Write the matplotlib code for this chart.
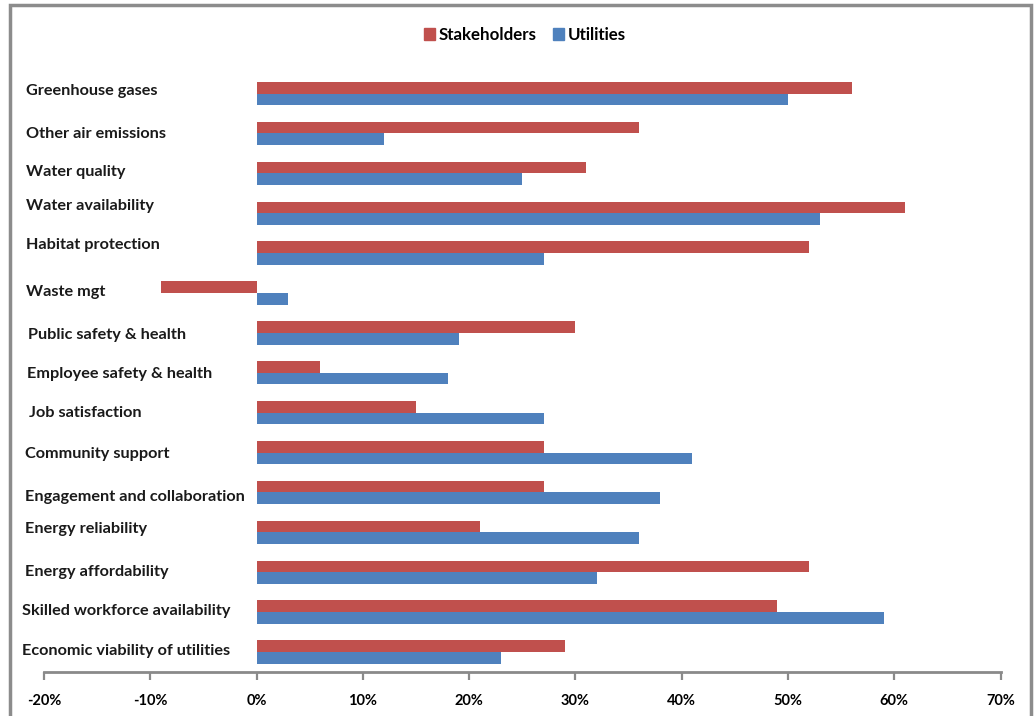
import matplotlib
matplotlib.use("Agg")
import matplotlib.pyplot as plt
from matplotlib.patches import Rectangle, Patch
from matplotlib.ticker import FuncFormatter
import numpy as np

categories = [
    "Greenhouse gases", "Other air emissions", "Water quality", "Water availability",
    "Habitat protection", "Waste mgt", "Public safety & health", "Employee safety & health",
    "Job satisfaction", "Community support", "Engagement and collaboration",
    "Energy reliability", "Energy affordability", "Skilled workforce availability",
    "Economic viability of utilities",
]
stakeholders = [56, 36, 31, 61, 52, -9, 30, 6, 15, 27, 27, 21, 52, 49, 29]
utilities = [50, 12, 25, 53, 27, 3, 19, 18, 27, 41, 38, 36, 32, 59, 23]
x_ticks = [-20, -10, 0, 10, 20, 30, 40, 50, 60, 70]

# layout: small per-label pixel offsets (x, y) to mimic original placement
label_dx = [0, 0, 0, 0, 0, 0, 2, 1, 3, -1, -1, -1, -1, -4, -4]
label_dy = [-5, -2, -4, -10, -11, -4, 0, -1, -2, -1, 2, -6, -3, -4, -4]

RED = "#C0504D"
BLUE = "#4F81BD"
FONT = "Lato"

W, H = 1034, 716
fig = plt.figure(figsize=(W / 100, H / 100), dpi=100)
ax = fig.add_axes([44 / W, 1 - 672 / H, (1000.6 - 44) / W, (672 - 73.6) / H])

y = np.arange(len(categories))
bh = 0.293
ax.barh(y - bh / 2, stakeholders, height=bh, color=RED, label="Stakeholders")
ax.barh(y + bh / 2, utilities, height=bh, color=BLUE, label="Utilities")

ax.set_ylim(len(categories) - 0.5, -0.5)
ax.set_xlim(x_ticks[0], x_ticks[-1])
ax.set_xticks(x_ticks)
ax.xaxis.set_major_formatter(FuncFormatter(lambda v, p: f"{int(round(v))}%"))
ax.tick_params(axis="x", direction="out", length=6, width=1.6, color="#8a8a8a",
               pad=10, labelsize=10.5)
for lab in ax.get_xticklabels():
    lab.set_fontfamily(FONT)
    lab.set_fontweight("bold")
ax.set_yticks([])
for s in ["top", "right", "left"]:
    ax.spines[s].set_visible(False)
ax.spines["bottom"].set_color("#8a8a8a")
ax.spines["bottom"].set_linewidth(2)

# category labels, left-aligned
fig.canvas.draw()
for i, cat in enumerate(categories):
    yc_disp = ax.transData.transform((0, y[i]))[1]
    yc = yc_disp / (fig.get_figheight() * fig.dpi)
    fig.text((26 + label_dx[i]) / W, yc - (label_dy[i] + 2.5) / H, cat, ha="left",
             va="center", fontsize=11.7, fontfamily=FONT, fontweight="bold",
             color="#1a1a1a")

# legend
handles = [Patch(color=RED, label="Stakeholders"), Patch(color=BLUE, label="Utilities")]
fig.legend(handles=handles, loc="center", bbox_to_anchor=(525 / W, 1 - 35 / H),
           ncol=2, frameon=False, prop={"family": FONT, "weight": "bold", "size": 12.2},
           handlelength=0.65, handleheight=0.65, handletextpad=0.2, columnspacing=1.0)

# outer frame
fig.patches.append(Rectangle((10 / W, -0.02), (1031 - 10) / W, 1.02 - 5 / H,
                             transform=fig.transFigure, fill=False,
                             edgecolor="#8c8c8c", linewidth=2.5))

fig.savefig("out.png", dpi=100)
